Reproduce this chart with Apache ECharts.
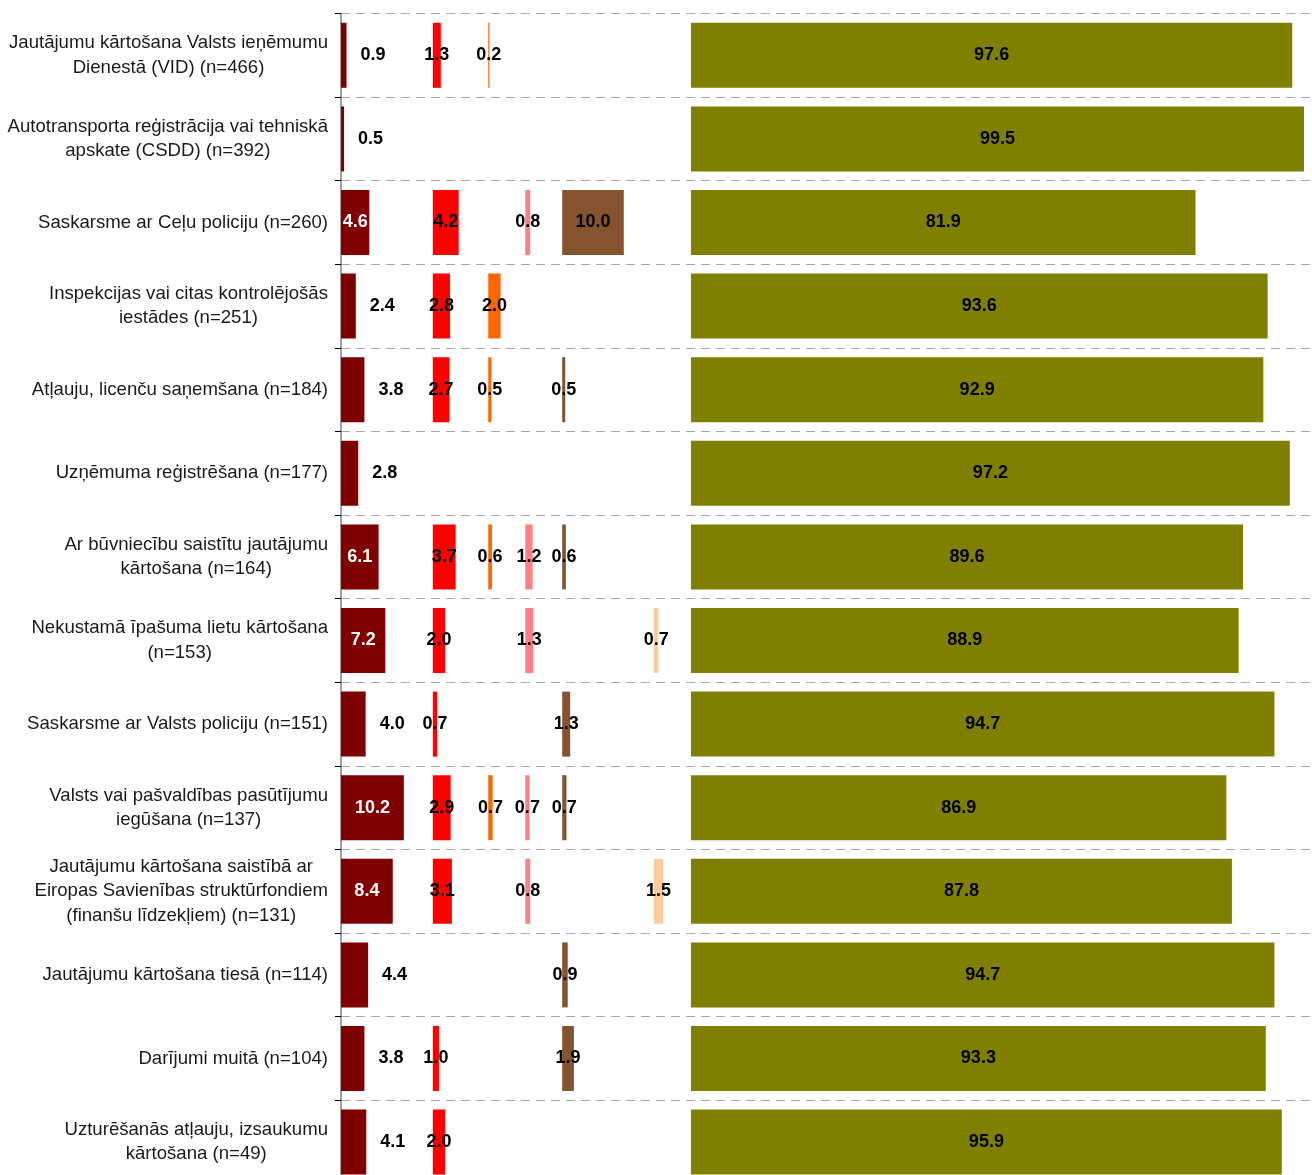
<!DOCTYPE html>
<html><head><meta charset="utf-8">
<script src="https://cdn.jsdelivr.net/npm/echarts@6/dist/echarts.min.js"></script>
<style>html,body{margin:0;padding:0;background:#fff}#c{width:1312px;height:1175px}</style>
</head><body><div id="c"></div>
<script>
const categories = [
  'Jautājumu kārtošana Valsts ieņēmumu\nDienestā (VID) (n=466)',
  'Autotransporta reģistrācija vai tehniskā\napskate (CSDD) (n=392)',
  'Saskarsme ar Ceļu policiju (n=260)',
  'Inspekcijas vai citas kontrolējošās\niestādes (n=251)',
  'Atļauju, licenču saņemšana (n=184)',
  'Uzņēmuma reģistrēšana (n=177)',
  'Ar būvniecību saistītu jautājumu\nkārtošana (n=164)',
  'Nekustamā īpašuma lietu kārtošana\n(n=153)',
  'Saskarsme ar Valsts policiju (n=151)',
  'Valsts vai pašvaldības pasūtījumu\niegūšana (n=137)',
  'Jautājumu kārtošana saistībā ar\nEiropas Savienības struktūrfondiem\n(finanšu līdzekļiem) (n=131)',
  'Jautājumu kārtošana tiesā (n=114)',
  'Darījumi muitā (n=104)',
  'Uzturēšanās atļauju, izsaukumu\nkārtošana (n=49)'
];
const darkRed = [0.9, 0.5, 4.6, 2.4, 3.8, 2.8, 6.1, 7.2, 4.0, 10.2, 8.4, 4.4, 3.8, 4.1];
const red     = [1.3, null, 4.2, 2.8, 2.7, null, 3.7, 2.0, 0.7, 2.9, 3.1, null, 1.0, 2.0];
const orange  = [0.2, null, null, 2.0, 0.5, null, 0.6, null, null, 0.7, null, null, null, null];
const pink    = [null, null, 0.8, null, null, null, 1.2, 1.3, null, 0.7, 0.8, null, null, null];
const brown   = [null, null, 10.0, null, 0.5, null, 0.6, null, 1.3, 0.7, null, 0.9, 1.9, null];
const peach   = [null, null, null, null, null, null, null, 0.7, null, null, 1.5, null, null, null];
const olive   = [97.6, 99.5, 81.9, 93.6, 92.9, 97.2, 89.6, 88.9, 94.7, 86.9, 87.8, 94.7, 93.3, 95.9];

// layout: column start offsets (in value units) and total axis span
const columnOffsets = [0, 14.9, 23.9, 29.9, 35.9, 50.8, 56.8];
const axisSpan = 157.6;
const seriesDefs = [
  {data: darkRed, color: '#800000'},
  {data: red, color: '#FF0000'},
  {data: orange, color: '#FF6600'},
  {data: pink, color: '#FF8080'},
  {data: brown, color: '#86532F'},
  {data: peach, color: '#FFCC99'},
  {data: olive, color: '#808000'}
];
const FONT = '"Liberation Sans", Arial, sans-serif';

const xAxes = columnOffsets.map((o, i) => ({
  type: 'value', gridIndex: 0, min: -o, max: axisSpan - o, show: false
}));

const series = seriesDefs.map((s, i) => ({
  type: 'bar',
  xAxisIndex: i,
  yAxisIndex: 0,
  barWidth: 65,
  barGap: '-100%',
  itemStyle: {color: s.color},
  label: {
    show: true,
    position: 'inside',
    color: '#000',
    fontWeight: 'bold',
    fontSize: 18,
    fontFamily: FONT,
    formatter: p => p.value == null ? '' : Number(p.value).toFixed(1)
  },
  data: s.data.map(v => {
    if (v == null) return null;
    if (i === 0) {
      return v >= 4.5
        ? {value: v, label: {position: 'inside', color: '#fff'}}
        : {value: v, label: {position: 'right', distance: 14, color: '#000'}};
    }
    return v;
  })
}));

const chart = echarts.init(document.getElementById('c'), null, {renderer: 'canvas'});
chart.setOption({
  animation: false,
  backgroundColor: '#fff',
  grid: {left: 341, right: 0, top: 13.5, height: 1170.4, outerBoundsMode: 'none', containLabel: false},
  xAxis: xAxes,
  yAxis: {
    type: 'category',
    inverse: true,
    data: categories,
    axisLine: {show: true, lineStyle: {color: '#808080', width: 1.5}},
    axisTick: {show: true, length: 6, lineStyle: {color: '#000', width: 1}},
    splitLine: {show: true, lineStyle: {color: '#a8a8a8', type: [9, 6], width: 1}},
    axisLabel: {
      margin: 13,
      color: '#1a1a1a',
      fontSize: 18.6,
      fontFamily: FONT,
      formatter: v => v.split('\n').map(l => '{c|' + l + '}').join('\n'),
      rich: {c: {align: 'center', fontSize: 18.6, lineHeight: 24.5, fontFamily: FONT, color: '#1a1a1a'}}
    }
  },
  series: series
});
</script></body></html>
